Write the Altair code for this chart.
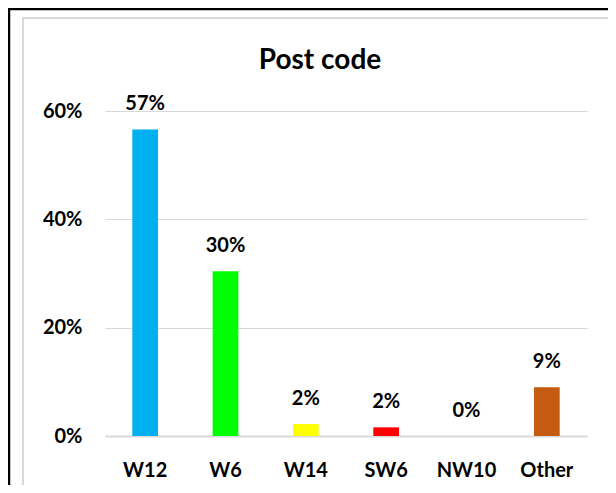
import altair as alt
import pandas as pd

categories = ["W12", "W6", "W14", "SW6", "NW10", "Other"]
values = [0.566, 0.304, 0.022, 0.016, 0.0, 0.09]
labels = ["57%", "30%", "2%", "2%", "0%", "9%"]
colors = ["#00B0F0", "#00FF00", "#FFFF00", "#FF0000", "#7F7F7F", "#C55A11"]
y_ticks = [0, 0.2, 0.4, 0.6]
title_text = ["Post code"]

df = pd.DataFrame({"code": categories, "share": values, "label": labels})

FONT = "Lato"

x_enc = alt.X(
    "code:N",
    sort=categories,
    title=None,
    scale=alt.Scale(paddingInner=0.68, paddingOuter=0.34),
    axis=alt.Axis(
        labelAngle=0, ticks=False, domain=True, domainColor="#d9d9d9",
        domainWidth=2, labelFont=FONT, labelFontWeight="bold",
        labelFontSize=20, labelColor="black", labelPadding=24, grid=False,
    ),
)
y_enc = alt.Y(
    "share:Q",
    title=None,
    scale=alt.Scale(domain=[0, 0.6], nice=False),
    axis=alt.Axis(
        values=y_ticks, format=".0%", ticks=False, domain=False,
        gridColor="#d9d9d9", gridWidth=1, labelFont=FONT,
        labelFontWeight="bold", labelFontSize=20, labelColor="black",
        labelPadding=23,
    ),
)

base = alt.Chart(df)
bars = base.mark_bar().encode(
    x=x_enc,
    y=y_enc,
    color=alt.Color("code:N", scale=alt.Scale(domain=categories, range=colors), legend=None),
)
text = base.mark_text(
    font=FONT, fontWeight="bold", fontSize=20, color="black",
    baseline="middle", dy=-25,
).encode(x=alt.X("code:N", sort=categories), y="share:Q", text="label:N")

title = alt.Chart(pd.DataFrame({"t": title_text})).mark_text(
    font=FONT, fontWeight="bold", fontSize=28, color="black",
    align="center", baseline="alphabetic",
).encode(x=alt.value(215), y=alt.value(-42), text="t:N")

one = pd.DataFrame({"k": [0]})
frame_black_top = alt.Chart(one).mark_rule(color="black", strokeWidth=2.5).encode(
    x=alt.value(-97), x2=alt.value(503), y=alt.value(-102))
frame_black_left = alt.Chart(one).mark_rule(color="black", strokeWidth=2.5).encode(
    x=alt.value(-96), y=alt.value(-103), y2=alt.value(380))
frame_gray_top = alt.Chart(one).mark_rule(color="#d9d9d9", strokeWidth=2).encode(
    x=alt.value(-83), x2=alt.value(503), y=alt.value(-93))
frame_gray_left = alt.Chart(one).mark_rule(color="#d9d9d9", strokeWidth=2).encode(
    x=alt.value(-82), y=alt.value(-93), y2=alt.value(380))

chart = alt.layer(
    frame_gray_top, frame_gray_left, frame_black_top, frame_black_left, bars, text, title
).properties(
    width=482,
    height=325,
    padding={"left": 97, "top": 103, "right": 21, "bottom": 49},
    autosize=alt.AutoSizeParams(type="none"),
    background="white",
).configure_view(stroke=None)

chart.save("out.html", embed_options={"renderer": "svg", "actions": False})
